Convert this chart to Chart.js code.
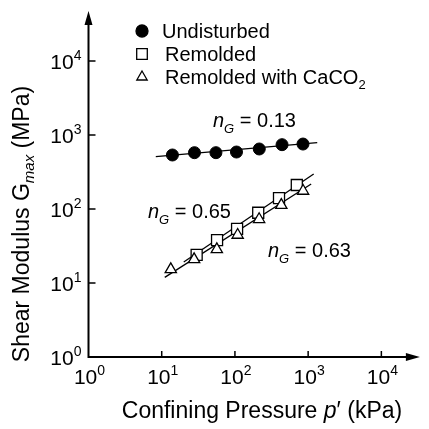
<!DOCTYPE html>
<html>
<head>
<meta charset="utf-8">
<script src="https://cdn.jsdelivr.net/npm/chart.js@4.4.1/dist/chart.umd.min.js"></script>
<style>
html, body { margin: 0; padding: 0; background: #fff; }
canvas { display: block; }
</style>
</head>
<body>
<canvas id="chart" width="429" height="429"></canvas>
<script>
// ===== DATA =====
const undisturbedP = [14, 28, 55, 105, 215, 440, 850];
const undisturbedG = [537, 577, 577, 589, 647, 740, 755];

const remoldedP = [30, 57, 107, 208, 400, 700];
const remoldedG = [24, 38, 54, 89, 140, 211];

const caco2P = [13.3, 27.7, 56.6, 109, 214, 430, 853];
const caco2G = [15.3, 20.9, 28.5, 44.5, 72.6, 113, 175];

// fitted lines (end points)
const fitUndisturbedP = [8.3, 1330];
const fitUndisturbedG = [509, 787];
const fitRemoldedP = [20, 1190];
const fitRemoldedG = [19.2, 297];
const fitCaco2P = [11, 1100];
const fitCaco2G = [11.9, 218];

const tickValues = [1, 10, 100, 1000, 10000];
const tickExponents = ["0", "1", "2", "3", "4"];

const legendLabels = ["Undisturbed", "Remolded", "Remolded with CaCO"];
const slopeLabels = ["0.13", "0.65", "0.63"];

const FONT = "'Liberation Sans', Arial, sans-serif";

function pts(xs, ys) {
    return xs.map((x, i) => ({ x: x, y: ys[i] }));
}

// draw a row of text runs, returns total width
function drawRuns(ctx, runs, x, y, measureOnly) {
    let cx = x;
    runs.forEach(r => {
        ctx.font = r.font;
        if (!measureOnly) ctx.fillText(r.text, cx, y + (r.dy || 0));
        cx += ctx.measureText(r.text).width;
    });
    return cx - x;
}

function powRuns(exp) {
    return [
        { text: "10", font: "21px " + FONT },
        { text: exp, font: "14px " + FONT, dy: -9 }
    ];
}

function slopeRuns(val) {
    return [
        { text: "n", font: "italic 20px " + FONT },
        { text: "G", font: "italic 13px " + FONT, dy: 6 },
        { text: " = " + val, font: "20px " + FONT }
    ];
}

/* ===== AXES + TEXT PLUGIN ===== */
const axesPlugin = {
    id: "axesPlugin",
    beforeDatasetsDraw(chart) {
        const ctx = chart.ctx;
        const xs = chart.scales.x, ys = chart.scales.y;
        const left = xs.getPixelForValue(1);
        const bottom = ys.getPixelForValue(1);
        const right = chart.chartArea.right;
        const top = chart.chartArea.top;

        ctx.save();
        ctx.strokeStyle = "#000";
        ctx.fillStyle = "#000";
        ctx.lineWidth = 2;
        ctx.beginPath();
        ctx.moveTo(left - 1, bottom);
        ctx.lineTo(right - 8, bottom);
        ctx.moveTo(left, bottom + 1);
        ctx.lineTo(left, top + 8);
        ctx.stroke();

        // arrow heads
        ctx.beginPath();
        ctx.moveTo(right, bottom);
        ctx.lineTo(right - 14, bottom - 4);
        ctx.lineTo(right - 14, bottom + 4);
        ctx.closePath();
        ctx.fill();
        ctx.beginPath();
        ctx.moveTo(left, top);
        ctx.lineTo(left - 4, top + 14);
        ctx.lineTo(left + 4, top + 14);
        ctx.closePath();
        ctx.fill();

        // ticks (inside)
        ctx.lineWidth = 1.5;
        ctx.beginPath();
        tickValues.forEach(v => {
            if (v === 1) return;
            const x = xs.getPixelForValue(v);
            ctx.moveTo(x, bottom);
            ctx.lineTo(x, bottom - 6);
            const y = ys.getPixelForValue(v);
            ctx.moveTo(left, y);
            ctx.lineTo(left + 7, y);
        });
        ctx.stroke();
        ctx.restore();
    },
    afterDraw(chart) {
        const ctx = chart.ctx;
        const xs = chart.scales.x, ys = chart.scales.y;
        const left = xs.getPixelForValue(1);
        const bottom = ys.getPixelForValue(1);

        ctx.save();
        ctx.fillStyle = "#000";
        ctx.textBaseline = "alphabetic";
        ctx.textAlign = "left";

        // tick labels
        tickValues.forEach((v, i) => {
            const runs = powRuns(tickExponents[i]);
            const w = drawRuns(ctx, runs, 0, 0, true);
            const x = xs.getPixelForValue(v);
            drawRuns(ctx, runs, x - w / 2 + 1, bottom + 27);
            const y = ys.getPixelForValue(v);
            drawRuns(ctx, runs, left - 7 - w, y + 8);
        });

        // x title
        const xTitle = [
            { text: "Confining Pressure ", font: "23px " + FONT },
            { text: "p", font: "italic 23px " + FONT },
            { text: "\u2032 (kPa)", font: "23px " + FONT }
        ];
        const xw = drawRuns(ctx, xTitle, 0, 0, true);
        drawRuns(ctx, xTitle, 262 - xw / 2, 418);

        // y title (rotated)
        const yTitle = [
            { text: "Shear Modulus G", font: "23px " + FONT },
            { text: "max", font: "italic 15px " + FONT, dy: 5 },
            { text: " (MPa)", font: "23px " + FONT }
        ];
        const yw = drawRuns(ctx, yTitle, 0, 0, true);
        ctx.save();
        ctx.translate(29, 224);
        ctx.rotate(-Math.PI / 2);
        drawRuns(ctx, yTitle, -yw / 2, 0);
        ctx.restore();

        // slope labels
        drawRuns(ctx, slopeRuns(slopeLabels[0]), 213, 127);
        drawRuns(ctx, slopeRuns(slopeLabels[1]), 148, 218);
        drawRuns(ctx, slopeRuns(slopeLabels[2]), 268, 257);

        // legend
        const markers = [
            { pointStyle: "circle", radius: 6, fill: "#000" },
            { pointStyle: "rect", radius: 7.5, fill: "#fff" },
            { pointStyle: "triangle", radius: 6, fill: "#fff" }
        ];
        const baselines = [38, 61, 84];
        ctx.lineWidth = 1.3;
        ctx.strokeStyle = "#000";
        markers.forEach((m, i) => {
            ctx.fillStyle = m.fill;
            Chart.helpers.drawPoint(ctx, { pointStyle: m.pointStyle, radius: m.radius, rotation: 0, borderWidth: 1.3 }, 142, baselines[i] - 7);
            ctx.fillStyle = "#000";
            const tx = i === 0 ? 162 : 165;
            const runs = [{ text: legendLabels[i], font: "20px " + FONT }];
            if (i === 2) runs.push({ text: "2", font: "13px " + FONT, dy: 5 });
            drawRuns(ctx, runs, tx, baselines[i]);
        });

        ctx.restore();
    }
};

/* ===== CHART ===== */
const ctx = document.getElementById("chart").getContext("2d");

new Chart(ctx, {
    type: "scatter",
    data: {
        datasets: [
            {
                label: "Undisturbed",
                data: pts(undisturbedP, undisturbedG),
                pointStyle: "circle",
                pointRadius: 6,
                backgroundColor: "#000",
                borderColor: "#000",
                borderWidth: 1,
                order: 1
            },
            {
                label: "Remolded with CaCO2",
                data: pts(caco2P, caco2G),
                pointStyle: "triangle",
                pointRadius: 6.5,
                backgroundColor: "#fff",
                borderColor: "#000",
                borderWidth: 1.3,
                order: 2
            },
            {
                label: "Remolded",
                data: pts(remoldedP, remoldedG),
                pointStyle: "rect",
                pointRadius: 7.8,
                backgroundColor: "#fff",
                borderColor: "#000",
                borderWidth: 1.3,
                order: 3
            },
            {
                label: "fit undisturbed",
                data: pts(fitUndisturbedP, fitUndisturbedG),
                showLine: true,
                pointRadius: 0,
                borderColor: "#000",
                borderWidth: 1.3,
                order: 4
            },
            {
                label: "fit remolded",
                data: pts(fitRemoldedP, fitRemoldedG),
                showLine: true,
                pointRadius: 0,
                borderColor: "#000",
                borderWidth: 1.3,
                order: 4
            },
            {
                label: "fit caco2",
                data: pts(fitCaco2P, fitCaco2G),
                showLine: true,
                pointRadius: 0,
                borderColor: "#000",
                borderWidth: 1.3,
                order: 4
            }
        ]
    },
    options: {
        responsive: false,
        animation: false,
        layout: { padding: { left: 88.5, top: 11, right: 1, bottom: 72 } },
        plugins: {
            legend: { display: false },
            tooltip: { enabled: false }
        },
        scales: {
            x: { type: "logarithmic", min: 1, max: 33600, display: false },
            y: { type: "logarithmic", min: 1, max: 47400, display: false }
        }
    },
    plugins: [axesPlugin]
});
</script>
</body>
</html>
